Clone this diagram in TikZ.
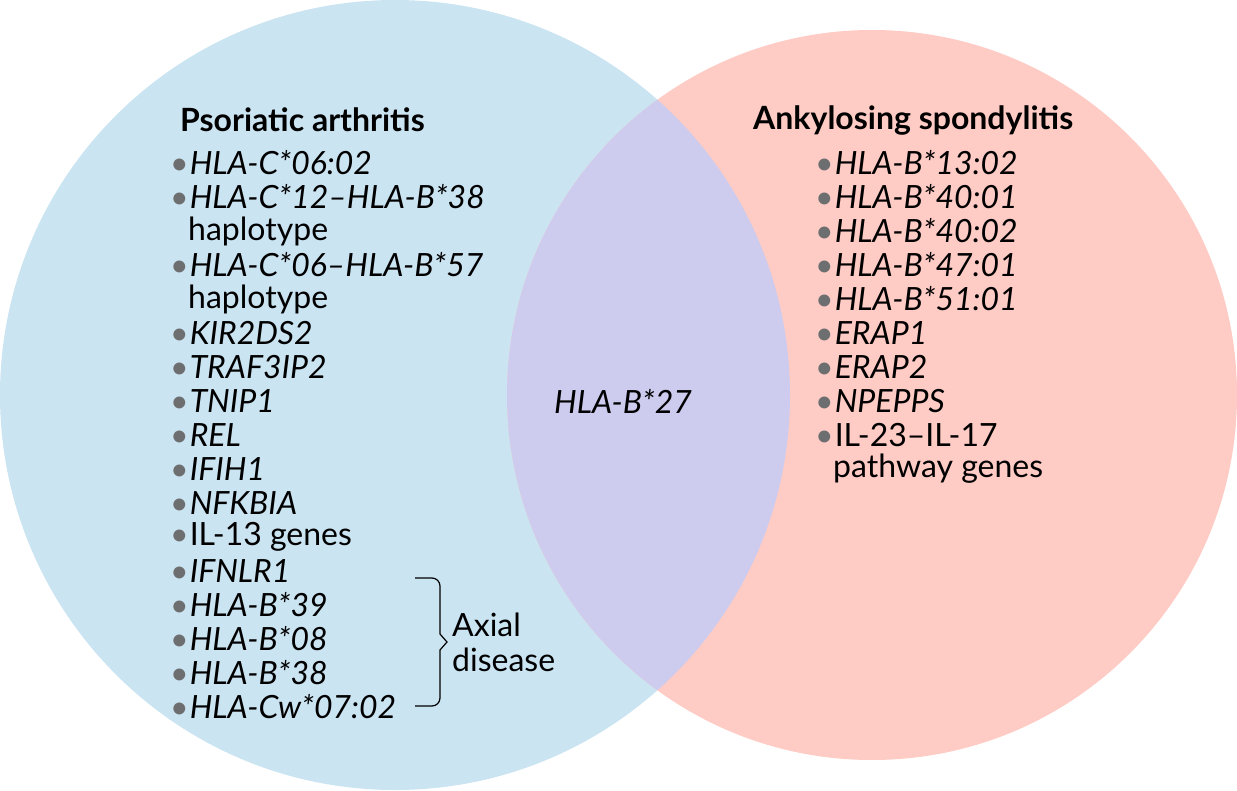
\documentclass[tikz,border=0pt]{standalone}
\usepackage{fontspec}
\setmainfont{Lato}
\begin{document}
\begin{tikzpicture}[x=1pt,y=-1pt,
  itm/.style={anchor=west,font=\fontsize{32}{34}\selectfont,inner sep=0pt},
  ttl/.style={anchor=west,font=\fontsize{32}{34}\selectfont\bfseries,inner sep=0pt}]
\definecolor{cblue}{HTML}{CBE4F2}
\definecolor{cpink}{HTML}{FECBC5}
\definecolor{cmix}{HTML}{CDCBEE}
\definecolor{bul}{HTML}{6D6E70}
\useasboundingbox (0,0) rectangle (1237,790);
\fill[cblue] (395,395) circle (395);
\fill[cpink] (872,395) circle (365);
\begin{scope}
\clip (395,395) circle (395);
\fill[cmix] (872,395) circle (365);
\end{scope}
\newcommand{\bu}{{\color{bul}\textbullet}\hspace{1pt}}
\node[ttl] (tl) at (180,120) {Psoriatic arthritis};
\node[itm] (l1) at (170,163) {\bu\textit{HLA-C*06:02}};
\node[itm] (l2) at (170,197) {\bu\textit{HLA-C*12--HLA-B*38}};
\node[itm] (l3) at (188,231) {haplotype};
\node[itm] (l4) at (170,265) {\bu\textit{HLA-C*06--HLA-B*57}};
\node[itm] (l5) at (188,299) {haplotype};
\node[itm] (l6) at (170,333) {\bu\textit{KIR2DS2}};
\node[itm] (l7) at (170,367) {\bu\textit{TRAF3IP2}};
\node[itm] (l8) at (170,401) {\bu\textit{TNIP1}};
\node[itm] (l9) at (170,435) {\bu\textit{REL}};
\node[itm] (l10) at (170,469) {\bu\textit{IFIH1}};
\node[itm] (l11) at (170,503) {\bu\textit{NFKBIA}};
\node[itm] (l12) at (170,537) {\bu IL-13 genes};
\node[itm] (l13) at (170,571) {\bu\textit{IFNLR1}};
\node[itm] (l14) at (170,605) {\bu\textit{HLA-B*39}};
\node[itm] (l15) at (170,639) {\bu\textit{HLA-B*08}};
\node[itm] (l16) at (170,673) {\bu\textit{HLA-B*38}};
\node[itm] (l17) at (170,707) {\bu\textit{HLA-Cw*07:02}};
\coordinate (bt) at (415,578);
\coordinate (bb) at (415,706);
\draw[line width=1.2pt] (bt) -- (432,578) arc (-90:0:8) -- (440,634) -- (447,642) -- (440,650) -- (440,698) arc (0:90:8) -- (bb);
\node[itm] (ax1) at (452,625) {Axial};
\node[itm] (ax2) at (452,660) {disease};
\node[itm,anchor=center] (mid) at (623,401) {\textit{HLA-B*27}};
\node[ttl] (tr) at (753,120) {Ankylosing spondylitis};
\node[itm] (r1) at (815,163) {\bu\textit{HLA-B*13:02}};
\node[itm] (r2) at (815,197) {\bu\textit{HLA-B*40:01}};
\node[itm] (r3) at (815,231) {\bu\textit{HLA-B*40:02}};
\node[itm] (r4) at (815,265) {\bu\textit{HLA-B*47:01}};
\node[itm] (r5) at (815,299) {\bu\textit{HLA-B*51:01}};
\node[itm] (r6) at (815,333) {\bu\textit{ERAP1}};
\node[itm] (r7) at (815,367) {\bu\textit{ERAP2}};
\node[itm] (r8) at (815,401) {\bu\textit{NPEPPS}};
\node[itm] (r9) at (815,435) {\bu IL-23--IL-17};
\node[itm] (r10) at (833,469) {pathway genes};
\end{tikzpicture}
\end{document}
